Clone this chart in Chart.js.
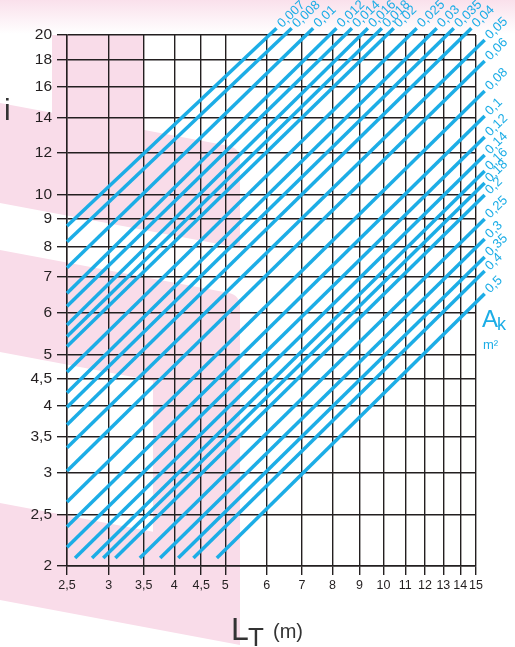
<!DOCTYPE html>
<html>
<head>
<meta charset="utf-8">
<script src="https://cdn.jsdelivr.net/npm/chart.js@4.4.1/dist/chart.umd.min.js"></script>
<style>
  html, body { margin: 0; padding: 0; background: #fff; }
  canvas { display: block; }
</style>
</head>
<body>
<canvas id="chart" width="515" height="647"></canvas>
<script>
// A_k (m2) of each line, top-left to bottom-right
const areas = [0.007, 0.008, 0.01, 0.012, 0.014, 0.016, 0.018, 0.02, 0.025, 0.03, 0.035, 0.04,
  0.05, 0.06, 0.08, 0.1, 0.12, 0.14, 0.16, 0.18, 0.2, 0.25, 0.3, 0.35, 0.4, 0.5];

// lower end of each line (L_T, i)
const startL = [2.5, 2.5, 2.5, 2.5, 2.5, 2.5, 2.5, 2.5, 2.5, 2.5, 2.5, 2.5, 2.5,
  2.5, 2.5, 2.5, 2.5, 2.59, 2.79, 2.93, 3.09, 3.44, 3.76, 4.07, 4.35, 4.82];
const startI = [8.74, 8.16, 7.29, 6.53, 6.17, 5.69, 5.41, 5.18, 4.64, 4.24, 3.98, 3.69, 3.34,
  3.02, 2.64, 2.37, 2.17, 2.07, 2.07, 2.07, 2.07, 2.07, 2.07, 2.07, 2.07, 2.07];

// upper end of each line (L_T, i)
const endL = [6.26, 6.69, 7.35, 8.14, 8.71, 9.34, 9.93, 10.46, 11.57, 12.63, 13.61, 14.7,
  15.58, 15.58, 15.58, 15.58, 15.58, 15.58, 15.58, 15.58, 15.58, 15.58, 15.58, 15.58, 15.58, 15.58];
const endI = [20.59, 20.59, 20.59, 20.59, 20.59, 20.59, 20.59, 20.59, 20.59, 20.59, 20.59, 20.59,
  19.57, 17.87, 15.69, 14.08, 12.85, 11.89, 11.09, 10.53, 9.99, 9.01, 8.26, 7.64, 7.19, 6.51];

const xTicks = [2.5, 3, 3.5, 4, 4.5, 5, 6, 7, 8, 9, 10, 11, 12, 13, 14, 15];
const yTicks = [2, 2.5, 3, 3.5, 4, 4.5, 5, 6, 7, 8, 9, 10, 12, 14, 16, 18, 20];

const blue = '#1cade6';
const ink = '#231f20';
const fam = '"Liberation Sans", Arial, Helvetica, sans-serif';

function comma(v) {
  return String(v).replace('.', ',');
}

// pink background shapes and top tint
const decor = {
  id: 'decor',
  beforeDraw(chart) {
    const ctx = chart.ctx;
    ctx.save();
    ctx.fillStyle = '#fff';
    ctx.fillRect(0, 0, chart.width, chart.height);
    const g = ctx.createLinearGradient(0, 0, 0, 34);
    g.addColorStop(0, 'rgba(248,214,229,0.75)');
    g.addColorStop(1, 'rgba(248,214,229,0)');
    ctx.fillStyle = g;
    ctx.fillRect(0, 0, chart.width, 34);

    ctx.fillStyle = '#f9dce9';
    ctx.beginPath();
    ctx.moveTo(0, 103);
    ctx.lineTo(52, 112.7);
    ctx.lineTo(52, 35);
    ctx.lineTo(143, 35);
    ctx.lineTo(143, 129.8);
    ctx.lineTo(228, 145.7);
    ctx.quadraticCurveTo(240, 148, 240, 160);
    ctx.lineTo(240, 248);
    ctx.lineTo(0, 203);
    ctx.closePath();
    ctx.fill();

    ctx.beginPath();
    ctx.moveTo(0, 250);
    ctx.lineTo(228, 292.7);
    ctx.quadraticCurveTo(240, 295, 240, 307);
    ctx.lineTo(240, 645);
    ctx.lineTo(0, 600);
    ctx.lineTo(0, 503);
    ctx.lineTo(153, 531.7);
    ctx.lineTo(153, 380.7);
    ctx.lineTo(0, 352);
    ctx.closePath();
    ctx.fill();
    ctx.restore();
  }
};

// A_k values at the line ends, axis titles
const texts = {
  id: 'texts',
  afterDatasetsDraw(chart) {
    const ctx = chart.ctx;
    ctx.save();
    ctx.fillStyle = blue;
    ctx.font = '13px ' + fam;
    ctx.textAlign = 'left';
    ctx.textBaseline = 'middle';
    chart.data.datasets.forEach((ds, k) => {
      const pts = chart.getDatasetMeta(k).data;
      const a = pts[0], b = pts[pts.length - 1];
      const ang = Math.atan2(b.y - a.y, b.x - a.x);
      ctx.save();
      ctx.translate(b.x, b.y);
      ctx.rotate(ang);
      ctx.fillText(ds.label, 4, 0);
      ctx.restore();
    });
    ctx.restore();
  },
  afterDraw(chart) {
    const ctx = chart.ctx;
    ctx.save();
    ctx.textAlign = 'left';
    ctx.textBaseline = 'alphabetic';
    ctx.fillStyle = '#333';
    ctx.font = '30px ' + fam;
    ctx.fillText('i', 4, 120);
    ctx.font = '32px ' + fam;
    ctx.fillText('L', 231, 640);
    ctx.font = '26px ' + fam;
    ctx.fillText('T', 248, 646);
    ctx.font = '20px ' + fam;
    ctx.fillText('(m)', 273, 638);

    ctx.fillStyle = blue;
    ctx.font = '24px ' + fam;
    ctx.fillText('A', 482, 327);
    ctx.font = '18px ' + fam;
    ctx.fillText('k', 497, 330);
    ctx.font = '13px ' + fam;
    ctx.fillText('m²', 483, 349);
    ctx.restore();
  }
};

const datasets = areas.map((a, k) => ({
  label: comma(a),
  data: [{ x: startL[k], y: startI[k] }, { x: endL[k], y: endI[k] }],
  borderColor: blue,
  borderWidth: 3.5,
  borderCapStyle: 'butt',
  pointRadius: 0,
  fill: false,
  clip: false
}));

new Chart(document.getElementById('chart').getContext('2d'), {
  type: 'line',
  data: { datasets: datasets },
  options: {
    responsive: false,
    animation: false,
    layout: { padding: { top: 35, right: 39, left: 0, bottom: 0 } },
    plugins: {
      legend: { display: false },
      tooltip: { enabled: false }
    },
    scales: {
      x: {
        type: 'logarithmic',
        min: 2.5,
        max: 15,
        afterBuildTicks: s => { s.ticks = xTicks.map(v => ({ value: v })); },
        afterFit: s => { s.height = 81; },
        ticks: {
          autoSkip: false,
          maxRotation: 0,
          minRotation: 0,
          padding: 3,
          color: ink,
          font: { family: fam, size: 12.5 },
          callback: v => comma(v)
        },
        grid: { color: ink, lineWidth: 1.4, tickLength: 9 },
        border: { color: ink, width: 1.4 }
      },
      y: {
        type: 'logarithmic',
        min: 2,
        max: 20,
        afterBuildTicks: s => { s.ticks = yTicks.map(v => ({ value: v })); },
        afterFit: s => { s.width = 67; },
        ticks: {
          autoSkip: false,
          padding: 5,
          color: ink,
          font: { family: fam, size: 15.5 },
          callback: v => comma(v)
        },
        grid: { color: ink, lineWidth: 1.4, tickLength: 10 },
        border: { color: ink, width: 1.4 }
      }
    }
  },
  plugins: [decor, texts]
});
</script>
</body>
</html>
